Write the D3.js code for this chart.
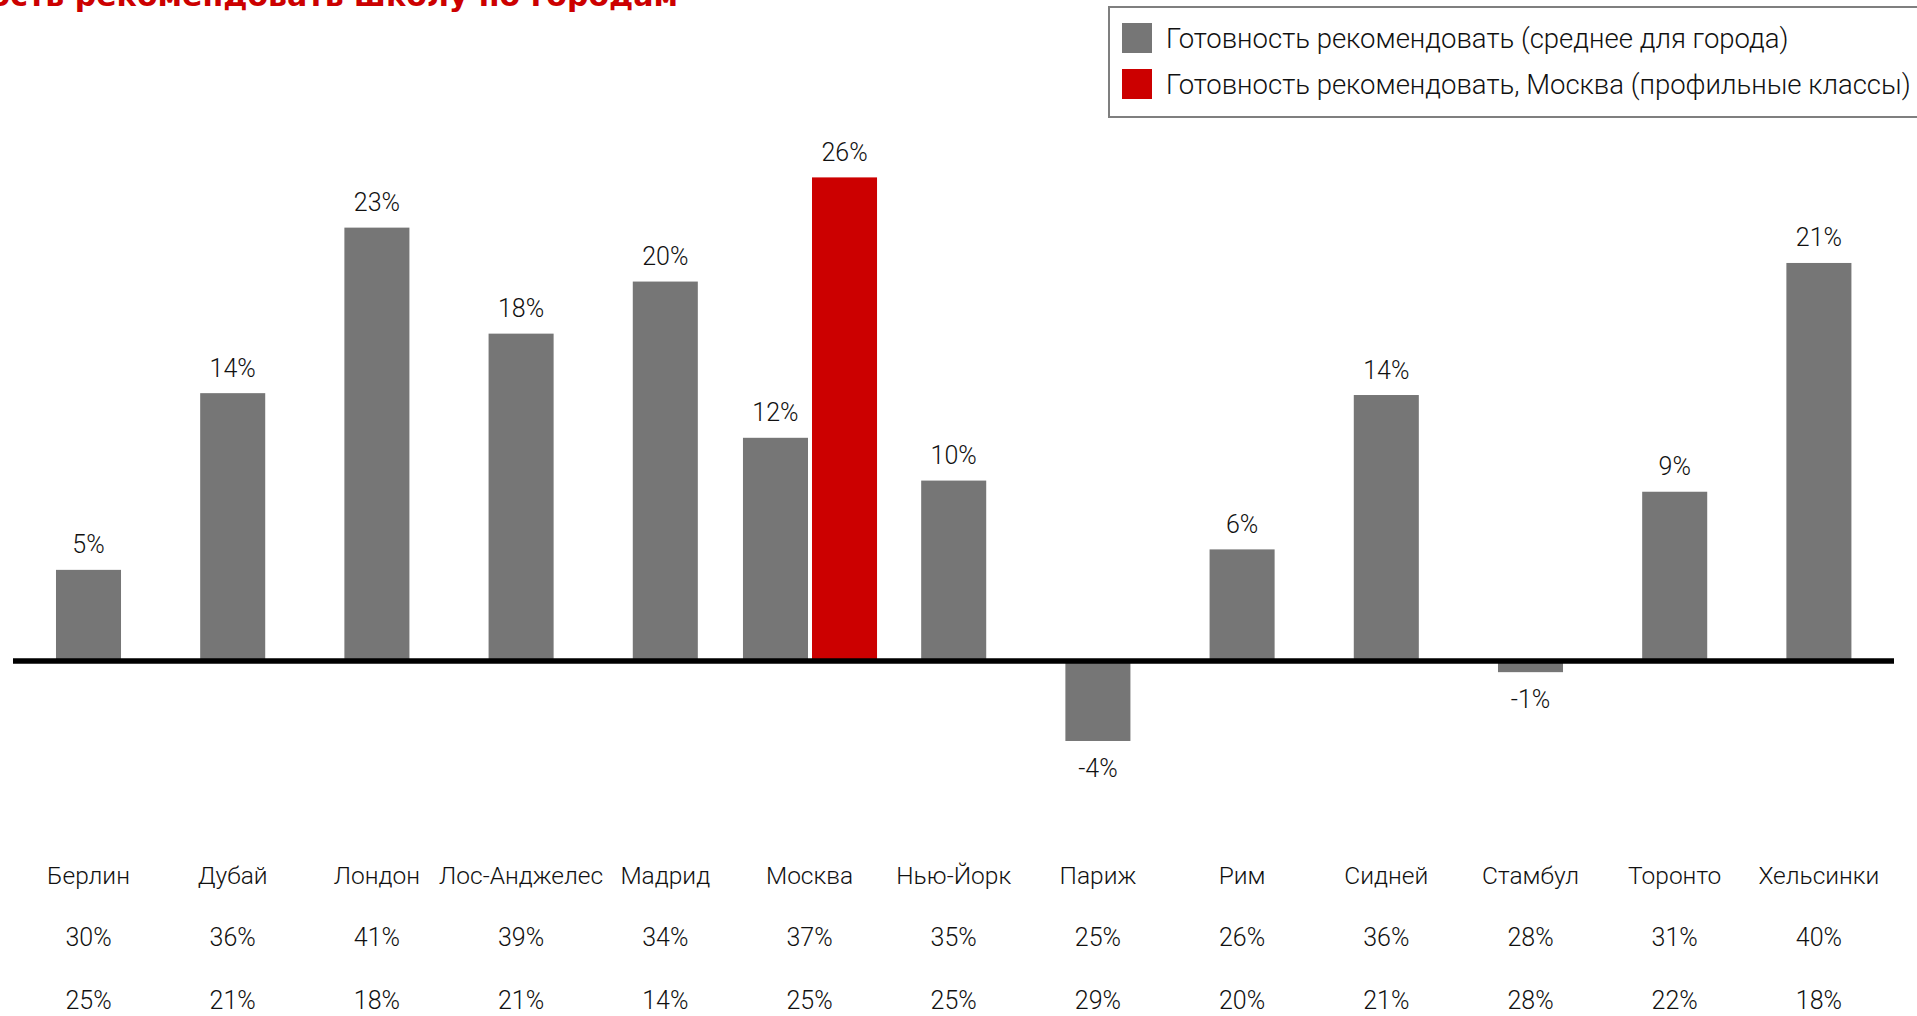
<!DOCTYPE html>
<html><head><meta charset="utf-8">
<script src="https://cdn.jsdelivr.net/npm/d3@7"></script>
<style>
html,body{margin:0;padding:0;background:#fff;overflow:hidden}
svg{display:block}
</style></head><body>
<svg id="chart" width="1917" height="1016"></svg>
<script>
// ---- data ----
const cities = ["Берлин","Дубай","Лондон","Лос-Анджелес","Мадрид","Москва","Нью-Йорк","Париж","Рим","Сидней","Стамбул","Торонто","Хельсинки"];
const avgValues = [4.9, 14.4, 23.3, 17.6, 20.4, 12.0, 9.7, -4.3, 6.0, 14.3, -0.6, 9.1, 21.4];
const profileCity = "Москва";
const profileValue = 26.0;
const row2Values = [30, 36, 41, 39, 34, 37, 35, 25, 26, 36, 28, 31, 40];
const row3Values = [25, 21, 18, 21, 14, 25, 25, 29, 20, 21, 28, 22, 18];
const seriesNames = ["Готовность рекомендовать (среднее для города)", "Готовность рекомендовать, Москва (профильные классы)"];
const seriesColors = ["#767676", "#CC0000"];
const titleText = "Готовность рекомендовать школу по городам";
const yDomain = [-10, 30];

// ---- layout ----
const svg = d3.select("#chart");
const x = d3.scaleBand().domain(cities).range([16.4, 1891]).padding(0);
const y = d3.scaleLinear().domain(yDomain).range([847, 103]);
const barW = x.bandwidth() * 0.451;
const cx = c => x(c) + x.bandwidth() / 2;
const pct = v => Math.round(v) + "%";
const FONT = "Roboto, 'Noto Sans', sans-serif";

// title (clipped at top like the reference)
svg.append("text")
  .attr("x", 678).attr("y", 6)
  .attr("text-anchor", "end")
  .attr("font-family", "'DejaVu Sans', sans-serif")
  .attr("font-weight", "bold")
  .attr("font-size", 30)
  .attr("fill", "#CC0000")
  .text(titleText);

// bar records
const bars = [];
cities.forEach((c, i) => {
  if (c === profileCity) {
    bars.push({city: c, v: avgValues[i], s: 0, x: cx(c) - 1.5 - barW});
    bars.push({city: c, v: profileValue, s: 1, x: cx(c) + 2.5});
  } else {
    bars.push({city: c, v: avgValues[i], s: 0, x: cx(c) - barW / 2});
  }
});

svg.append("g").selectAll("rect").data(bars).join("rect")
  .attr("x", d => d.x)
  .attr("y", d => Math.min(y(d.v), y(0)))
  .attr("width", barW)
  .attr("height", d => Math.abs(y(d.v) - y(0)))
  .attr("fill", d => seriesColors[d.s]);

// zero line
svg.append("line")
  .attr("x1", x.range()[0] - 3.4).attr("x2", x.range()[1] + 3)
  .attr("y1", y(0)).attr("y2", y(0))
  .attr("stroke", "#000").attr("stroke-width", 5.7);

// value labels
svg.append("g").selectAll("text").data(bars).join("text")
  .attr("x", d => d.x + barW / 2)
  .attr("y", d => d.v >= 0 ? y(d.v) - 16.5 : y(d.v) + 36)
  .attr("text-anchor", "middle")
  .attr("font-family", FONT)
  .attr("font-weight", 300)
  .attr("font-size", 25)
  .attr("fill", "#111")
  .text(d => pct(d.v));

// bottom table
const table = svg.append("g")
  .attr("font-family", FONT)
  .attr("font-weight", 300)
  .attr("fill", "#111")
  .attr("text-anchor", "middle");
table.selectAll("text.city").data(cities).join("text").attr("class", "city")
  .attr("x", d => cx(d)).attr("y", 884).attr("font-size", 24.5).text(d => d);
table.selectAll("text.r2").data(row2Values).join("text").attr("class", "r2")
  .attr("x", (d, i) => cx(cities[i])).attr("y", 946).attr("font-size", 25).text(d => d + "%");
table.selectAll("text.r3").data(row3Values).join("text").attr("class", "r3")
  .attr("x", (d, i) => cx(cities[i])).attr("y", 1009).attr("font-size", 25).text(d => d + "%");

// legend
const lg = svg.append("g");
lg.append("rect").attr("x", 1109).attr("y", 7).attr("width", 830).attr("height", 110)
  .attr("fill", "#fff").attr("stroke", "#7f7f7f").attr("stroke-width", 2);
const items = lg.selectAll("g.item").data(seriesNames).join("g").attr("class", "item")
  .attr("transform", (d, i) => `translate(1122, ${23 + i * 46})`);
items.append("rect").attr("width", 30).attr("height", 30).attr("fill", (d, i) => seriesColors[i]);
items.append("text").attr("x", 44).attr("y", 25)
  .attr("font-family", FONT).attr("font-weight", 300).attr("font-size", 27.5)
  .attr("fill", "#111").text(d => d);
</script>
</body></html>
